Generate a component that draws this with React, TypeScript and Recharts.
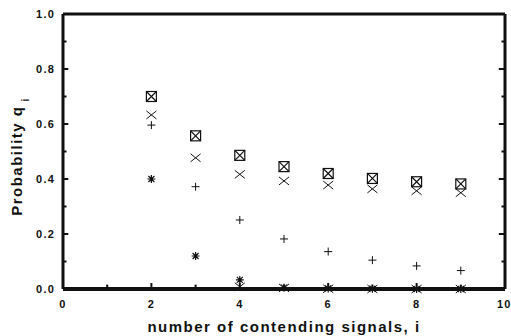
import { ScatterChart, Scatter, XAxis, YAxis, ReferenceLine } from "recharts";

// contending signals i
const signals = [2, 3, 4, 5, 6, 7, 8, 9];
const boxedCross = [0.7, 0.557, 0.486, 0.445, 0.42, 0.402, 0.39, 0.382];
const crossHigh = [0.633, 0.477, 0.417, 0.393, 0.378, 0.364, 0.357, 0.35];
const plusVals = [0.596, 0.372, 0.251, 0.182, 0.136, 0.105, 0.084, 0.067];
const starVals = [0.4, 0.12, 0.033, 0.005, 0.002, 0.001, 0, 0];
const crossLow = [null, null, 0.008, 0.004, 0.001, 0, 0, 0];

const xTicks = [0, 2, 4, 6, 8, 10];
const yTicks = [0, 0.2, 0.4, 0.6, 0.8, 1.0];
const xMinor = [1, 2, 3, 4, 5, 6, 7, 8, 9];
const yMinor = [0.1, 0.2, 0.3, 0.4, 0.5, 0.6, 0.7, 0.8, 0.9];

const toPoints = (vals: (number | null)[]) =>
  signals
    .map((x, i) => ({ x, y: vals[i] }))
    .filter((p) => p.y !== null);

const INK = "#111";
const FONT = "'Liberation Sans', Arial, sans-serif";

const BoxX = ({ cx, cy }: any) => (
  <g stroke={INK} strokeWidth={1.2} fill="none">
    <rect x={cx - 5} y={cy - 5} width={10} height={10} />
    <path d={`M${cx - 5},${cy - 5}L${cx + 5},${cy + 5}M${cx + 5},${cy - 5}L${cx - 5},${cy + 5}`} />
  </g>
);

const Cross = ({ cx, cy }: any) => (
  <path
    d={`M${cx - 5},${cy - 4}L${cx + 5},${cy + 4}M${cx + 5},${cy - 4}L${cx - 5},${cy + 4}`}
    stroke={INK}
    strokeWidth={1}
    fill="none"
  />
);

const Plus = ({ cx, cy }: any) => (
  <path
    d={`M${cx - 4},${cy}L${cx + 4},${cy}M${cx},${cy - 4}L${cx},${cy + 4}`}
    stroke={INK}
    strokeWidth={1}
    fill="none"
  />
);

const Star = ({ cx, cy }: any) => (
  <path
    d={`M${cx - 4},${cy}L${cx + 4},${cy}M${cx},${cy - 4}L${cx},${cy + 4}M${cx - 3},${cy - 3}L${cx + 3},${cy + 3}M${cx + 3},${cy - 3}L${cx - 3},${cy + 3}`}
    stroke={INK}
    strokeWidth={1.2}
    fill="none"
  />
);

const tickStyle = { fill: INK, fontSize: 11, fontWeight: 700, fontFamily: FONT, letterSpacing: 1.2 };

const YTitle = ({ viewBox }: any) => {
  const cx = 22;
  const cy = viewBox.y + viewBox.height / 2 + 5;
  return (
    <text
      transform={`rotate(-90, ${cx}, ${cy})`}
      x={cx}
      y={cy}
      textAnchor="middle"
      fill={INK}
      fontSize={15}
      fontWeight={700}
      fontFamily={FONT}
      letterSpacing={1.5}
    >
      Probability q
      <tspan fontSize={10} dy={7} dx={4}>
        i
      </tspan>
    </text>
  );
};

export default function App() {
  return (
    <div style={{ position: "absolute", top: 0, left: 0, width: 511, height: 336, background: "#fff" }}>
      <ScatterChart width={511} height={336} margin={{ top: 14, right: 6, left: 0, bottom: 0 }}>
        <XAxis
          type="number"
          dataKey="x"
          domain={[0, 10]}
          ticks={xTicks}
          height={47}
          tickLine={false}
          tickMargin={5}
          axisLine={{ stroke: INK, strokeWidth: 4 }}
          tick={tickStyle}
          label={{
            value: "number of contending signals, i",
            position: "insideBottom",
            offset: 4,
            fill: INK,
            fontSize: 15,
            fontWeight: 700,
            fontFamily: FONT,
            letterSpacing: 1.5,
          }}
        />
        <YAxis
          type="number"
          dataKey="y"
          domain={[0, 1]}
          ticks={yTicks}
          width={63}
          tickLine={false}
          axisLine={{ stroke: INK, strokeWidth: 3 }}
          tick={tickStyle}
          tickFormatter={(v: number) => v.toFixed(1)}
          label={{ content: YTitle }}
        />
        <ReferenceLine y={1} stroke={INK} strokeWidth={3} />
        <ReferenceLine x={10} stroke={INK} strokeWidth={3} />
        {xMinor.map((t) => (
          <ReferenceLine
            key={`xm${t}`}
            segment={[{ x: t, y: 0 }, { x: t, y: t % 2 === 0 ? 0.022 : 0.016 }]}
            stroke={INK}
            strokeWidth={2}
          />
        ))}
        {yMinor.map((t, i) => (
          <ReferenceLine
            key={`yl${t}`}
            segment={[{ x: 0, y: t }, { x: i % 2 === 1 ? 0.12 : 0.08, y: t }]}
            stroke={INK}
            strokeWidth={2}
          />
        ))}
        {yMinor.map((t, i) => (
          <ReferenceLine
            key={`yr${t}`}
            segment={[{ x: 10, y: t }, { x: i % 2 === 1 ? 9.86 : 9.92, y: t }]}
            stroke={INK}
            strokeWidth={2}
          />
        ))}
        <Scatter data={toPoints(boxedCross)} shape={BoxX} isAnimationActive={false} />
        <Scatter data={toPoints(crossHigh)} shape={Cross} isAnimationActive={false} />
        <Scatter data={toPoints(plusVals)} shape={Plus} isAnimationActive={false} />
        <Scatter data={toPoints(starVals)} shape={Star} isAnimationActive={false} />
        <Scatter data={toPoints(crossLow)} shape={Cross} isAnimationActive={false} />
      </ScatterChart>
    </div>
  );
}
